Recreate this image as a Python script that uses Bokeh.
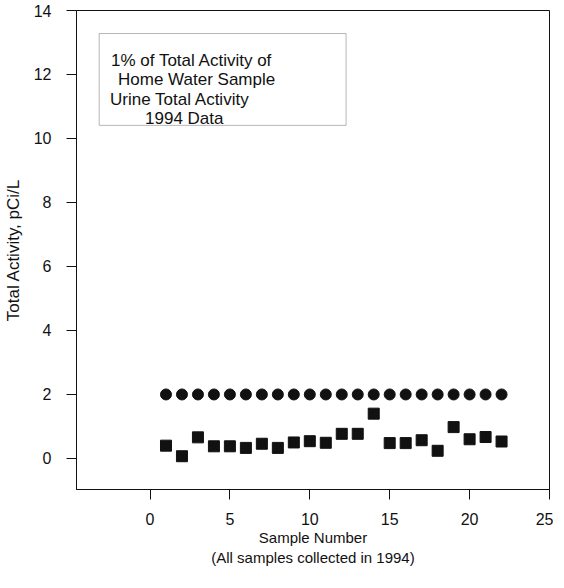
from bokeh.plotting import figure
from bokeh.models import Range1d, FixedTicker, BoxAnnotation, Label
from bokeh.embed import file_html
from bokeh.resources import INLINE

# ---- data ----
sample_number = list(range(1, 23))
home_water_1pct = [2.0] * 22
urine_total_activity = [0.40, 0.07, 0.66, 0.38, 0.38, 0.33, 0.46, 0.33, 0.50, 0.54,
                        0.49, 0.77, 0.77, 1.40, 0.48, 0.48, 0.57, 0.24, 0.98, 0.60,
                        0.67, 0.53]
x_ticks = [0, 5, 10, 15, 20, 25]
y_ticks = [0, 2, 4, 6, 8, 10, 12, 14]
legend_lines = ["1% of Total Activity of", "Home Water Sample",
                "Urine Total Activity", "1994 Data"]

FONT = "Liberation Sans"
INK = "#111111"

p = figure(frame_width=473, frame_height=479,
           min_border_left=76, min_border_right=4, min_border_top=10, min_border_bottom=4,
           x_range=Range1d(-4.6, 25), y_range=Range1d(-0.97, 14),
           output_backend="svg", toolbar_location=None)

p.xgrid.visible = False
p.ygrid.visible = False
p.outline_line_color = INK
p.outline_line_width = 1
p.background_fill_color = "white"
p.border_fill_color = "white"

for ax in (p.xaxis[0], p.yaxis[0]):
    ax.axis_line_color = INK
    ax.major_tick_line_color = INK
    ax.minor_tick_line_color = None
    ax.major_tick_out = 10
    ax.major_tick_in = 0
    ax.major_label_text_font = FONT
    ax.major_label_text_font_size = "16px"
    ax.major_label_text_color = INK
    ax.axis_label_text_font = FONT
    ax.axis_label_text_font_style = "normal"
    ax.axis_label_text_color = INK

p.xaxis.ticker = FixedTicker(ticks=x_ticks)
p.yaxis.ticker = FixedTicker(ticks=y_ticks)
p.xaxis.major_label_standoff = 13
p.yaxis.major_label_standoff = 15

p.yaxis.axis_label = "Total Activity, pCi/L"
p.yaxis.axis_label_text_font_size = "17px"
p.yaxis.axis_label_standoff = 8

p.xaxis.axis_label = "Sample Number\n(All samples collected in 1994)"
p.xaxis.axis_label_text_font_size = "15px"
p.xaxis.axis_label_standoff = 1

p.scatter(sample_number, home_water_1pct, marker="circle", size=11,
          fill_color=INK, line_color=INK)
p.scatter(sample_number, urine_total_activity, marker="square", size=11,
          fill_color=INK, line_color=INK)

box = BoxAnnotation(left=-3.18, right=12.27, bottom=10.41, top=13.28,
                    fill_alpha=0, line_color=INK, line_width=1)
p.add_layout(box)

label_x = [-2.44, -2.0, -2.5, -0.31]
label_y = [12.44, 11.83, 11.22, 10.61]
for t, lx, ly in zip(legend_lines, label_x, label_y):
    p.add_layout(Label(x=lx, y=ly, text=t, text_font=FONT, text_font_size="17px",
                       text_color=INK, text_baseline="alphabetic", text_align="left"))

open("out.html", "w").write(file_html(p, INLINE))
